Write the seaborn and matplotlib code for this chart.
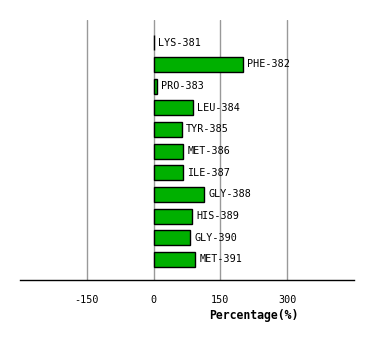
import matplotlib
matplotlib.use("Agg")
import matplotlib.pyplot as plt
import seaborn as sns
import pandas as pd

residues = ["LYS-381", "PHE-382", "PRO-383", "LEU-384", "TYR-385", "MET-386",
            "ILE-387", "GLY-388", "HIS-389", "GLY-390", "MET-391"]
percent = [1, 201, 7, 89, 64, 66, 66, 113, 86, 82, 93]
xticks = [-150, 0, 150, 300]

df = pd.DataFrame({"residue": residues, "pct": percent})

sns.set_style("white")
plt.rcParams["font.family"] = ["DejaVu Sans Mono", "DejaVu Sans"]
plt.rcParams["text.color"] = "black"
plt.rcParams["xtick.color"] = "black"
plt.rcParams["axes.labelcolor"] = "black"

fig = plt.figure(figsize=(3.74, 3.40), dpi=100)
ax = fig.add_axes([20 / 374, 60 / 340, 334 / 374, 260 / 340])

sns.barplot(data=df, x="pct", y="residue", orient="h", color="#00b000",
            saturation=1, width=0.7, edgecolor="black", linewidth=1,
            ax=ax, zorder=2)

for i, (name, v) in enumerate(zip(residues, percent)):
    ax.annotate(name, xy=(v, i), xytext=(3, 0), textcoords="offset points",
                va="center", ha="left", fontsize=7.3, color="black", zorder=3)

ax.set_xlim(-300, 450)
ax.set_ylim(len(residues) - 0.05, -1.05)
ax.set_xticks(xticks)
ax.set_xticklabels([str(t) for t in xticks], fontsize=7.3, color="black")
ax.set_yticks([])
ax.set_ylabel("")
ax.grid(axis="x", color="#999999", linewidth=1)
ax.set_axisbelow(True)
ax.tick_params(axis="x", direction="out", length=5, width=1, color="black", pad=6)
for s in ["left", "right", "top"]:
    ax.spines[s].set_visible(False)
ax.spines["bottom"].set_color("black")
ax.spines["bottom"].set_linewidth(1)

ax.set_xlabel("Percentage(%)", fontsize=8.3, fontweight="bold", color="black")
ax.xaxis.set_label_coords((254 - 20) / 334, -29 / 260)

fig.savefig("out.png", dpi=100)
